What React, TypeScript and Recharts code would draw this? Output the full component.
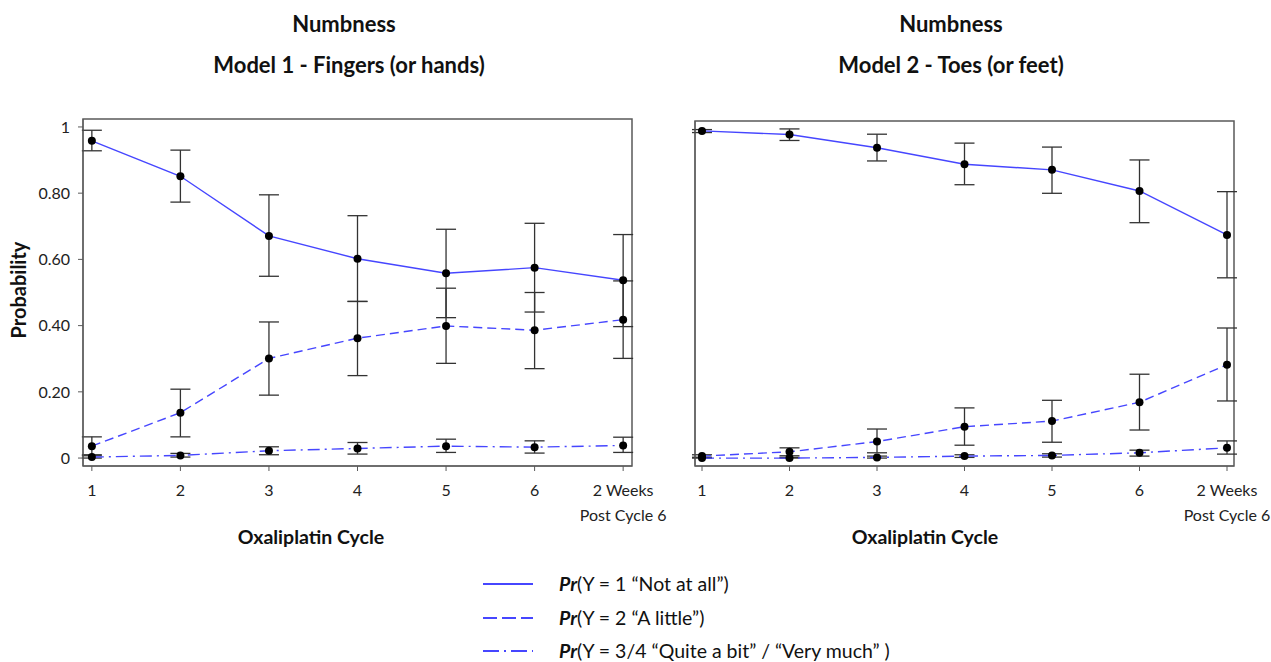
import { LineChart, Line, XAxis, YAxis, ErrorBar, ReferenceArea } from "recharts";

const FONT = "Lato, 'Open Sans', sans-serif";
const BLUE = "#4646ff";
const BOX = "#5a5a5a";

// x positions: cycles 1..6, 7 = "2 Weeks Post Cycle 6"
const cycles = [1, 2, 3, 4, 5, 6, 7];
const cycleLabels = ["1", "2", "3", "4", "5", "6", "2 Weeks|Post Cycle 6"];

// Model 1 - Fingers (or hands)
const m1NotAtAll = [0.958, 0.851, 0.671, 0.602, 0.558, 0.575, 0.537];
const m1NotAtAllLo = [0.928, 0.773, 0.549, 0.473, 0.424, 0.441, 0.397];
const m1NotAtAllHi = [0.99, 0.93, 0.795, 0.732, 0.691, 0.709, 0.675];
const m1ALittle = [0.036, 0.137, 0.301, 0.362, 0.399, 0.386, 0.418];
const m1ALittleLo = [0.01, 0.064, 0.19, 0.249, 0.286, 0.27, 0.301];
const m1ALittleHi = [0.064, 0.208, 0.411, 0.473, 0.513, 0.5, 0.535];
const m1QuiteABit = [0.003, 0.008, 0.022, 0.029, 0.036, 0.033, 0.038];
const m1QuiteABitLo = [0.0, 0.003, 0.01, 0.012, 0.017, 0.015, 0.017];
const m1QuiteABitHi = [0.007, 0.014, 0.034, 0.047, 0.057, 0.052, 0.063];

// Model 2 - Toes (or feet)
const m2NotAtAll = [0.991, 0.98, 0.94, 0.89, 0.873, 0.809, 0.676];
const m2NotAtAllLo = [0.986, 0.962, 0.9, 0.828, 0.802, 0.713, 0.546];
const m2NotAtAllHi = [0.995, 0.997, 0.981, 0.954, 0.942, 0.903, 0.807];
const m2ALittle = [0.006, 0.019, 0.05, 0.095, 0.112, 0.169, 0.283];
const m2ALittleLo = [0.002, 0.007, 0.016, 0.039, 0.048, 0.085, 0.173];
const m2ALittleHi = [0.01, 0.031, 0.088, 0.152, 0.175, 0.254, 0.394];
const m2QuiteABit = [0.0, 0.0, 0.002, 0.006, 0.008, 0.016, 0.031];
const m2QuiteABitLo = [0.0, 0.0, 0.0, 0.002, 0.003, 0.006, 0.012];
const m2QuiteABitHi = [0.002, 0.002, 0.006, 0.01, 0.013, 0.024, 0.052];

const leftTicks = [0, 0.2, 0.4, 0.6, 0.8, 1];
const rightTicks = [0, 0.25, 0.5, 0.75, 1];

const buildRows = (
  s1: number[], s1Lo: number[], s1Hi: number[],
  s2: number[], s2Lo: number[], s2Hi: number[],
  s3: number[], s3Lo: number[], s3Hi: number[]
) =>
  cycles.map((c, i) => ({
    cycle: c,
    s1: s1[i],
    s1Err: [s1[i] - s1Lo[i], s1Hi[i] - s1[i]],
    s2: s2[i],
    s2Err: [s2[i] - s2Lo[i], s2Hi[i] - s2[i]],
    s3: s3[i],
    s3Err: [s3[i] - s3Lo[i], s3Hi[i] - s3[i]],
  }));

const m1Rows = buildRows(
  m1NotAtAll, m1NotAtAllLo, m1NotAtAllHi,
  m1ALittle, m1ALittleLo, m1ALittleHi,
  m1QuiteABit, m1QuiteABitLo, m1QuiteABitHi
);
const m2Rows = buildRows(
  m2NotAtAll, m2NotAtAllLo, m2NotAtAllHi,
  m2ALittle, m2ALittleLo, m2ALittleHi,
  m2QuiteABit, m2QuiteABitLo, m2QuiteABitHi
);

const XTick = ({ x, y, payload }: any) => {
  const label = cycleLabels[payload.value - 1] ?? "";
  const lines = label.split("|");
  return (
    <g>
      {lines.map((t, i) => (
        <text
          key={i}
          x={x}
          y={y}
          dy={17 + i * 25}
          textAnchor="middle"
          fill="#222"
          fontSize={16}
          fontFamily={FONT}
        >
          {t}
        </text>
      ))}
    </g>
  );
};

const dot = { r: 4, fill: "#000", stroke: "none" };

type PanelProps = {
  rows: any[];
  width: number;
  margin: { top: number; right: number; bottom: number; left: number };
  yAxisWidth: number;
  xDomain: [number, number];
  yDomain: [number, number];
  yTicks: number[];
  showYLabels: boolean;
};

function Panel({ rows, width, margin, yAxisWidth, xDomain, yDomain, yTicks, showYLabels }: PanelProps) {
  const series = [
    { key: "s1", dash: undefined },
    { key: "s2", dash: "9 5" },
    { key: "s3", dash: "12 5 2 5" },
  ];
  return (
    <LineChart width={width} height={560} data={rows} margin={margin} style={{ overflow: "visible" }}>
      <XAxis
        dataKey="cycle"
        type="number"
        domain={xDomain}
        allowDataOverflow
        ticks={cycles}
        tick={<XTick />}
        tickSize={5}
        tickMargin={8}
        height={70}
        stroke={BOX}
        interval={0}
      />
      <YAxis
        type="number"
        domain={yDomain}
        allowDataOverflow
        ticks={yTicks}
        width={yAxisWidth}
        tickSize={5}
        tickMargin={8}
        stroke={BOX}
        tick={showYLabels ? { fill: "#222", fontSize: 16, fontFamily: FONT } : false}
        tickFormatter={(v: number) => (v === 0 ? "0" : v === 1 ? "1" : v.toFixed(2))}
      />
      <ReferenceArea
        x1={xDomain[0]}
        x2={xDomain[1]}
        y1={yDomain[0]}
        y2={yDomain[1]}
        fill="none"
        stroke={BOX}
        strokeWidth={1.5}
      />
      {series.map((s) => (
        <Line
          key={s.key}
          dataKey={s.key}
          type="linear"
          stroke={BLUE}
          strokeWidth={1.4}
          strokeDasharray={s.dash}
          dot={dot}
          activeDot={false}
          isAnimationActive={false}
        >
          <ErrorBar dataKey={`${s.key}Err`} width={10} stroke="#333" strokeWidth={1.3} direction="y" />
        </Line>
      ))}
    </LineChart>
  );
}

const titleStyle = {
  position: "absolute" as const,
  fontFamily: FONT,
  fontWeight: 700,
  fontSize: 22,
  color: "#111",
  textAlign: "center" as const,
  width: 400,
  lineHeight: "26px",
};

const legendItems = [
  { dash: undefined, text: "(Y = 1 \u201CNot at all\u201D)", y: 584 },
  { dash: "14 5", text: "(Y = 2 \u201CA little\u201D)", y: 618 },
  { dash: "16 5 2 5", text: "(Y = 3/4 \u201CQuite a bit\u201D / \u201CVery much\u201D )", y: 651 },
];

export default function App() {
  return (
    <div style={{ position: "absolute", left: 0, top: 0, width: 1271, height: 662, background: "#fff", overflow: "hidden" }}>
      <div style={{ ...titleStyle, left: 344 - 200, top: 11 }}>Numbness</div>
      <div style={{ ...titleStyle, left: 349 - 200, top: 52 }}>Model 1 - Fingers (or hands)</div>
      <div style={{ ...titleStyle, left: 951 - 200, top: 11 }}>Numbness</div>
      <div style={{ ...titleStyle, left: 951 - 200, top: 52 }}>Model 2 - Toes (or feet)</div>

      <div style={{ position: "absolute", left: 0, top: 0 }}>
        <Panel
          rows={m1Rows}
          width={670}
          margin={{ top: 119, right: 38, bottom: 24, left: 23 }}
          yAxisWidth={60}
          xDomain={[0.9, 7.1]}
          yDomain={[-0.024, 1.024]}
          yTicks={leftTicks}
          showYLabels
        />
      </div>
      <div style={{ position: "absolute", left: 660, top: 0 }}>
        <Panel
          rows={m2Rows}
          width={611}
          margin={{ top: 121, right: 37, bottom: 24, left: 0 }}
          yAxisWidth={35}
          xDomain={[0.92, 7.08]}
          yDomain={[-0.024, 1.021]}
          yTicks={rightTicks}
          showYLabels={false}
        />
      </div>

      <div
        style={{
          position: "absolute",
          left: 18,
          top: 290,
          transform: "translate(-50%, -50%) rotate(-90deg)",
          fontFamily: FONT,
          fontWeight: 700,
          fontSize: 20,
          lineHeight: "22px",
          color: "#111",
          whiteSpace: "nowrap",
        }}
      >
        Probability
      </div>
      <div style={{ ...titleStyle, fontSize: 19.5, left: 311 - 200, top: 524 }}>Oxaliplatin Cycle</div>
      <div style={{ ...titleStyle, fontSize: 19.5, left: 925 - 200, top: 524 }}>Oxaliplatin Cycle</div>

      <svg width={60} height={662} style={{ position: "absolute", left: 478, top: 0 }}>
        {legendItems.map((it) => (
          <line key={it.y} x1={5} x2={55} y1={it.y} y2={it.y} stroke={BLUE} strokeWidth={2} strokeDasharray={it.dash} />
        ))}
      </svg>
      {legendItems.map((it) => (
        <div
          key={it.y}
          style={{
            position: "absolute",
            left: 559,
            top: it.y - 10,
            fontFamily: FONT,
            fontSize: 19.5,
            lineHeight: "20px",
            color: "#111",
            whiteSpace: "nowrap",
          }}
        >
          <b>
            <i>Pr</i>
          </b>
          {it.text}
        </div>
      ))}
    </div>
  );
}
